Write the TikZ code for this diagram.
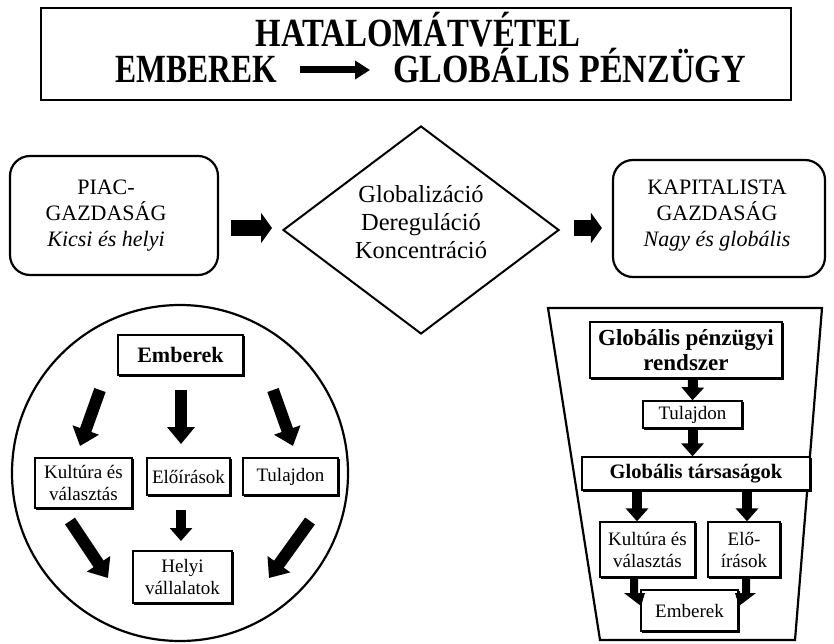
\documentclass[tikz,border=0pt]{standalone}
\usepackage{fontspec}
\usepackage{graphicx}
\setmainfont{Liberation Serif}
\usetikzlibrary{arrows.meta,shapes.geometric,shadows}
\begin{document}
\begin{tikzpicture}[x=1pt,y=-1pt,
  box/.style={draw, fill=white, line width=1.3pt, inner sep=0pt, align=center, font=\fontsize{19}{22}\selectfont,
    general shadow={draw, line width=1.1pt, shadow xshift=1.8pt, shadow yshift=-1.8pt}},
  rbox/.style={draw, line width=2.2pt, rounded corners=20pt, inner sep=0pt},
  txt/.style={inner sep=0pt, align=center, font=\fontsize{22}{26}\selectfont},
  ttl/.style={inner sep=0pt, font=\fontsize{40}{40}\selectfont\bfseries},
  bigarr/.style={line width=12pt, -{Triangle[length=17pt,width=27pt]}},
  midarr/.style={line width=10pt, -{Triangle[length=13pt,width=22pt]}},
  horarr/.style={line width=16pt, -{Triangle[length=11pt,width=30pt]}},
  ttlarr/.style={line width=7pt, -{Triangle[length=15pt,width=18pt]}},
]
\useasboundingbox (0,0) rectangle (834,644);

% title
\node[draw, line width=2.8pt, minimum width=750pt, minimum height=92pt] (title) at (416,54) {};
\node[ttl, anchor=base] (t1) at (418,47) {\scalebox{0.82}[1]{HATALOMÁTVÉTEL}};
\node[ttl, anchor=base east] (t2) at (277,83) {\scalebox{0.79}[1]{EMBEREK}};
\node[ttl, anchor=base west] (t3) at (393,83) {\scalebox{0.85}[1]{GLOBÁLIS PÉNZÜGY}};
\draw[ttlarr] ([shift={(23,-13)}]t2.base east) -- ([shift={(-23,-13)}]t3.base west);

% top row
\node[rbox, minimum width=208pt, minimum height=119pt] (lb) at (114,215.5) {};
\node[txt] (lbt) at (106,216) {PIAC-\\GAZDASÁG\\\textit{Kicsi és helyi}};
\node[draw, line width=2pt, diamond, minimum width=276pt, minimum height=208pt, inner sep=0pt] (dia) at (421,230) {};
\node[txt, font=\fontsize{24.5}{28}\selectfont] (diat) at (421,222) {Globalizáció\\Dereguláció\\Koncentráció};
\node[rbox, minimum width=212pt, minimum height=117pt] (rb) at (719,218.5) {};
\node[txt] (rbt) at (717,216) {KAPITALISTA\\GAZDASÁG\\\textit{Nagy és globális}};
\draw[horarr] ([shift={(12,12.5)}]lb.east) -- ([shift={(-10,-2)}]dia.west);
\draw[horarr] ([shift={(14,-2)}]dia.east) -- ([shift={(-10,9.5)}]rb.west);

% circle
\node[draw, circle, line width=2.2pt, minimum size=336pt, inner sep=0pt] (circ) at (180,473) {};
\node[box, minimum width=125pt, minimum height=40pt, font=\fontsize{22}{24}\selectfont\bfseries] (e1) at (180.5,355) {Emberek};
\node[box, minimum width=97pt, minimum height=50pt] (k1) at (83.5,483) {Kultúra és\\választás};
\node[box, minimum width=83pt, minimum height=37pt] (el1) at (188.5,476.5) {Előírások};
\node[box, minimum width=95pt, minimum height=37pt] (tu1) at (290.5,476.5) {Tulajdon};
\node[box, minimum width=99pt, minimum height=52pt] (h1) at (182.5,577) {Helyi\\vállalatok};
\coordinate (a1s) at (100,390); \coordinate (a1e) at (80,446);
\coordinate (a2s) at (181,390); \coordinate (a2e) at (181,444);
\coordinate (a3s) at (273,390); \coordinate (a3e) at (293,446);
\coordinate (a4s) at (181,510); \coordinate (a4e) at (181,541);
\coordinate (a5s) at (70,521); \coordinate (a5e) at (108,578);
\coordinate (a6s) at (310,521); \coordinate (a6e) at (269,578);
\draw[bigarr] (a1s) -- (a1e);
\draw[bigarr] (a2s) -- (a2e);
\draw[bigarr] (a3s) -- (a3e);
\draw[midarr] (a4s) -- (a4e);
\draw[bigarr] (a5s) -- (a5e);
\draw[bigarr] (a6s) -- (a6e);

% trapezoid
\draw[line width=2.2pt, line join=miter] (548,308) -- (822,308) -- (795,640) -- (600,640) -- cycle;
\node[box, minimum width=192pt, minimum height=56pt, font=\fontsize{23}{25}\selectfont\bfseries] (g1) at (686,350) {Globális pénzügyi\\rendszer};
\node[box, minimum width=99pt, minimum height=27pt] (tu2) at (692.5,414.5) {Tulajdon};
\node[box, minimum width=228pt, minimum height=33pt, font=\fontsize{20.5}{22}\selectfont\bfseries] (gt) at (696,473.5) {Globális társaságok};
\node[box, minimum width=95pt, minimum height=55pt] (k2) at (647.5,549.5) {Kultúra és\\választás};
\node[box, minimum width=72pt, minimum height=55pt] (el2) at (744,549.5) {Elő-\\írások};
\node[box, minimum width=97pt, minimum height=41pt] (em2) at (689.5,610.5) {Emberek};
\draw[midarr] ([xshift=0.5pt]g1.south -| tu2.north) -- (tu2.north);
\draw[midarr] (tu2.south) -- (tu2.south |- gt.north);
\draw[midarr] (gt.south -| 637,0) -- (k2.north -| 637,0);
\draw[midarr] (gt.south -| 747,0) -- (el2.north -| 747,0);
\fill (630,578) -- (638,578) -- (638,593) -- (645,593) -- (641,606) -- (624,593) -- (630,593) -- cycle;
\fill (750,578) -- (742,578) -- (742,593) -- (735,593) -- (739,606) -- (756,593) -- (750,593) -- cycle;
\end{tikzpicture}
\end{document}
